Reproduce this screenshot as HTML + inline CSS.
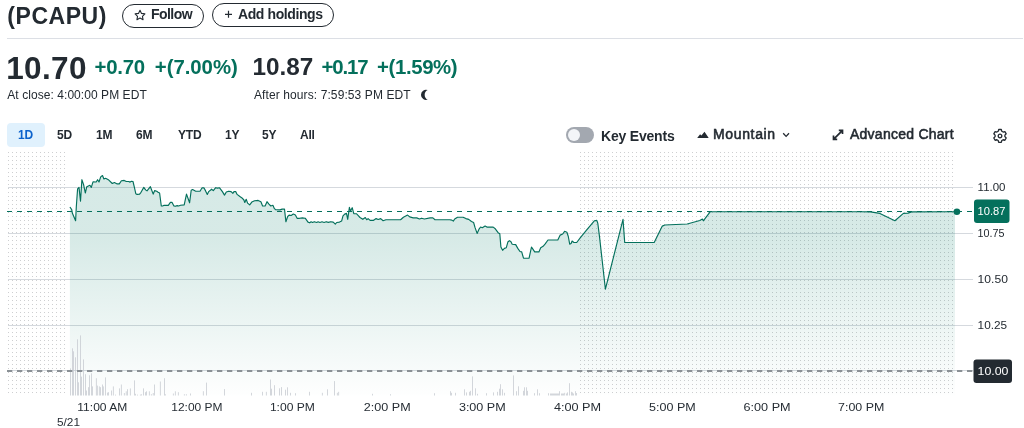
<!DOCTYPE html>
<html lang="en"><head><meta charset="utf-8"><title>PCAPU chart</title>
<style>
html,body{margin:0;padding:0;background:#fff;}
body{width:1024px;height:428px;position:relative;overflow:hidden;font-family:"Liberation Sans",Arial,sans-serif;color:#232a31;}
.a{position:absolute;white-space:nowrap;line-height:1;}
.b{font-weight:700;}
.g{color:#04705c;}
.pill{position:absolute;box-sizing:border-box;border:1px solid #232a31;border-radius:12px;height:24px;top:3.5px;}
.tab{position:absolute;top:129px;font-size:12px;font-weight:700;line-height:12px;white-space:nowrap;letter-spacing:-0.2px;}
svg{position:absolute;left:0;top:0;}
svg text{font-family:"Liberation Sans",Arial,sans-serif;}
</style></head><body>
<div class="a b" id="tick" style="left:7.3px;top:4.5px;font-size:23px;letter-spacing:0.55px;">(PCAPU)</div>
<div class="pill" style="left:122px;width:82px;"></div>
<div class="a b" id="follow" style="left:151px;top:7.4px;font-size:14px;letter-spacing:-0.55px;">Follow</div>
<div class="pill" style="left:212px;width:122px;top:2.8px;"></div>
<div class="a b" id="addh" style="left:238px;top:7.4px;font-size:14px;letter-spacing:-0.4px;">Add holdings</div>
<div class="a" style="left:7px;top:38px;width:1016px;height:1px;background:#dcdfe5;"></div>

<div class="a b" id="p1" style="left:6.2px;top:52.5px;font-size:31.5px;letter-spacing:0.35px;">10.70</div>
<div class="a b g" id="c1" style="left:94.5px;top:56.9px;font-size:20.4px;letter-spacing:-0.25px;">+0.70</div>
<div class="a b g" id="c2" style="left:154.8px;top:56.9px;font-size:20.4px;letter-spacing:-0.05px;">+(7.00%)</div>
<div class="a" id="t1" style="left:7.3px;top:89px;font-size:12px;letter-spacing:0.06px;">At close: 4:00:00 PM EDT</div>

<div class="a b" id="p2" style="left:252.5px;top:55px;font-size:24.3px;">10.87</div>
<div class="a b g" id="c3" style="left:321.5px;top:56.9px;font-size:20.4px;letter-spacing:-1.15px;">+0.17</div>
<div class="a b g" id="c4" style="left:377px;top:56.9px;font-size:20.4px;letter-spacing:-0.38px;">+(1.59%)</div>
<div class="a" id="t2" style="left:254px;top:89px;font-size:12px;letter-spacing:0.1px;">After hours: 7:59:53 PM EDT</div>

<div class="a" style="left:7px;top:123px;width:38px;height:24px;border-radius:4px;background:#e0f1fd;"></div>
<div class="tab" id="tb1" style="left:18px;color:#0b62cc;">1D</div>
<div class="tab" id="tb2" style="left:57px;">5D</div>
<div class="tab" id="tb3" style="left:96px;">1M</div>
<div class="tab" id="tb4" style="left:136px;">6M</div>
<div class="tab" id="tb5" style="left:178px;">YTD</div>
<div class="tab" id="tb6" style="left:225px;">1Y</div>
<div class="tab" id="tb7" style="left:262px;">5Y</div>
<div class="tab" id="tb8" style="left:300px;">All</div>

<div class="a" style="left:566px;top:127px;width:28px;height:16px;border-radius:8px;background:#a3a8b0;"></div>
<div class="a" style="left:568px;top:129px;width:12px;height:12px;border-radius:6px;background:#f3f5f8;"></div>
<div class="a b" id="ke" style="left:601px;top:129px;font-size:14px;letter-spacing:-0.2px;">Key Events</div>
<div class="a" id="mt" style="left:713px;top:127.400px;font-size:14px;letter-spacing:0.65px;-webkit-text-stroke:0.55px #232a31;">Mountain</div>
<div class="a" id="ac" style="left:850px;top:127.400px;font-size:14px;letter-spacing:0.25px;-webkit-text-stroke:0.55px #232a31;">Advanced Chart</div>

<svg width="1024" height="428" viewBox="0 0 1024 428">
<defs>
<pattern id="dots" x="8" y="152" width="4" height="4" patternUnits="userSpaceOnUse"><rect x="0" y="0" width="1" height="1" fill="#cecfd1"/></pattern>
<pattern id="dots2" x="580" y="152" width="4" height="4" patternUnits="userSpaceOnUse"><rect x="0" y="0" width="1" height="1" fill="#cecfd1"/></pattern>
<linearGradient id="mg" x1="0" y1="152" x2="0" y2="400" gradientUnits="userSpaceOnUse">
<stop offset="0" stop-color="#037b66" stop-opacity="0.16"/>
<stop offset="0.347" stop-color="#037b66" stop-opacity="0.16"/>
<stop offset="1" stop-color="#037b66" stop-opacity="0"/>
</linearGradient>
</defs>
<!-- star icon -->
<path d="M140,10.3 l1.5,3.1 3.4,0.5 -2.45,2.4 0.6,3.4 -3.05,-1.6 -3.05,1.6 0.6,-3.4 -2.45,-2.4 3.4,-0.5z" fill="none" stroke="#232a31" stroke-width="1.1" stroke-linejoin="round"/>
<!-- plus -->
<path d="M225,14.300h7M228.500,10.800v7" stroke="#232a31" stroke-width="1.2" fill="none"/>
<!-- moon -->
<path d="M427.700,90.100 A5.050,5.050 0 1 0 427.800,99.600 A5.200,5.200 0 0 1 427.700,90.100z" fill="#232a31"/>
<!-- mountain icon -->
<path d="M697.200,138 L700.100,134.200 L701.400,135.600 L704.500,131.700 L708.700,138z" fill="#232a31"/>
<!-- chevron -->
<path d="M783.200,133.300 L786.100,136.400 L789,133.300" fill="none" stroke="#232a31" stroke-width="1.3"/>
<!-- expand icon -->
<path d="M833.500,139.300 L842.500,130.300 M838.800,130.300 H842.500 V134 M833.500,135.600 V139.300 H837.200" fill="none" stroke="#232a31" stroke-width="1.7"/>
<!-- gear -->
<g transform="translate(1000,136)" fill="none" stroke="#232a31" stroke-width="1.3">
<circle r="1.800"/>
<path d="M-1.300,-6.500 h2.600 l0.500,1.800 1.300,0.750 1.800,-0.500 1.300,2.250 -1.300,1.350 v1.500 l1.300,1.350 -1.300,2.250 -1.800,-0.500 -1.300,0.750 -0.500,1.800 h-2.600 l-0.500,-1.800 -1.300,-0.750 -1.800,0.500 -1.300,-2.250 1.300,-1.350 v-1.500 l-1.300,-1.350 1.300,-2.250 1.800,0.500 1.300,-0.750z" stroke-linejoin="round"/>
</g>

<!-- chart -->
<rect x="8" y="152" width="58" height="242" fill="url(#dots)"/>
<rect x="580" y="152" width="376" height="242" fill="url(#dots2)"/>
<g stroke="#d5d9de" stroke-width="1">
<path d="M8,187.500H973M8,233.500H973M8,279.500H973M8,325.500H973M8,370.500H973"/>
</g>
<path d="M69.9,207 L71.7,209.5 L72.4,213.3 L75.6,220.7 L76.3,207 L77.6,188.8 L79,187.4 L80.5,201.1 L81.9,179.7 L83.6,184.6 L85.3,193 L86.8,186.7 L89.9,185.3 L91.3,187.4 L93,181.8 L96.2,182 L97.6,179.7 L99,182 L100.7,176.9 L102.5,175.5 L103.9,179 L105.6,178.3 L108.8,180.1 L112.3,183.5 L114.4,182.5 L117.2,183.9 L119.3,183.9 L121.4,180.7 L124.2,180.4 L126.3,181.5 L128.7,181.5 L130.1,182.1 L131.5,181.3 L133,181.5 L134.4,187.4 L135.8,193.7 L137.1,194.4 L139.6,194.1 L141,192.3 L143.8,187.4 L145.6,189.9 L147,190.9 L150.4,186.7 L153.2,194.1 L154.7,190.6 L156.7,191.3 L158.1,192.3 L159.6,193 L161.3,206 L162.7,206 L164.1,205.3 L168.3,205.3 L170.4,202.4 L172.1,202.4 L173.9,205.9 L175.3,206.3 L177.2,205.6 L178.6,206 L180.5,205.3 L184.2,204.9 L186.5,194.1 L189.6,202.8 L191.2,190.2 L192.6,189.5 L195.7,191.2 L200,191.2 L202.1,187.8 L203.9,187.8 L205.6,190.9 L207.3,194.4 L208.7,191.6 L211.6,189.2 L213.3,190.6 L215.7,187.7 L217.5,188.1 L219.6,187.8 L222.4,191.6 L224.5,195.1 L226.3,192 L228.7,191.2 L231.1,191.6 L232.9,193.3 L234,191.6 L235.7,191.6 L237.1,194.4 L239.9,196.5 L242,197.9 L243.9,200 L244.8,202.5 L246.2,199.3 L247.6,203.1 L249.7,204.9 L251.8,202.1 L254.6,200.7 L258.1,200.4 L260.9,201.7 L262.6,206 L265.1,206 L267,201.7 L268.7,203.9 L270.8,206 L272.9,205.3 L274.3,208.4 L275.7,209.8 L280,209.9 L282.1,209.1 L284.5,209.1 L285.9,221.7 L287.7,216.5 L289.1,215.1 L291.2,215.5 L293.3,214.1 L295.4,215.1 L297.1,218.3 L299.6,218.3 L302.4,217.9 L305.2,218.2 L308,222.1 L309.7,222.8 L311.1,221.8 L312.5,222.5 L314.3,221.7 L316.7,222.5 L318.1,221.8 L319.9,222.5 L322,221.8 L324.1,222.5 L326.2,221.7 L328.3,222.4 L330.7,221.7 L333.2,222.1 L335.3,224.2 L336.7,222.5 L339.5,222.1 L341.6,221.1 L343,215.8 L344.7,214.1 L346.5,213.4 L347.7,219.3 L349.4,207.4 L350.5,210.9 L352.2,207.7 L353.8,213.7 L356.4,213.7 L358.5,215.8 L360,217.5 L362.8,219.3 L365.3,217.5 L366.7,219.7 L368.1,218.6 L370.1,220.4 L373.3,220.4 L376.1,218.6 L378.2,219.5 L380.7,218.6 L383.1,220.7 L385.9,219.7 L400.6,219.7 L403.4,217.2 L407.6,215.1 L409.7,216.9 L413.2,217.9 L416.7,217.9 L419.5,219 L421.6,218.2 L424.4,219 L430.1,217.9 L432.9,217.9 L435,219.7 L440,219.7 L449.8,219.7 L451.9,220.1 L453.3,221.1 L454.7,219 L457.5,217.2 L463.1,217.2 L465.9,218.6 L468.7,219.4 L471.5,221.5 L473.6,222.5 L475,227.4 L477.1,233.4 L479.2,228.8 L480.6,227 L482.3,227.7 L485.1,226 L486.9,227.1 L493.2,227.1 L495.3,228.8 L498.1,232.7 L499.8,233.7 L500.9,247 L502.6,250.3 L504.4,248.4 L506.3,247.7 L508,241.7 L509.4,240.7 L510.8,241.4 L512.2,244.2 L515.7,244.6 L517.8,248.4 L520,251.5 L521.7,251.9 L523.5,258.2 L529.1,258.2 L530.1,253.3 L531.5,247 L532.9,249.1 L534.7,251.9 L538.9,251.9 L540.7,247.7 L543.1,246.3 L545.2,243.9 L548,240 L557.8,240 L560.2,235.1 L562.7,234 L564.6,231.3 L566.9,232.3 L568.3,236.5 L569.7,244.2 L571.1,243.5 L572.1,241 L573.9,242.5 L576.7,242.5 L580.2,237.9 L585.9,230.9 L594.3,220.8 L596.8,220.4 L597.8,223.2 L599.5,236.6 L605.4,289.2 L623,219.3 L624.7,242.5 L654.2,242.5 L662.3,226.1 L664.8,225 L687.2,224 L699.8,220.5 L702.4,219.1 L703.3,220.8 L710.3,211.7 L735,211.7 L860,211.7 L870.5,211.9 L879.9,213.4 L894.9,220.7 L903.4,213.4 L908,213.1 L911.6,211.9 L953.8,211.7 L955,211.7 L955,395.5 L69.9,395.5 Z" fill="url(#mg)"/>
<g fill="#c8ccd2"><rect x="70.2" y="368.4" width="0.8" height="27.1"/><rect x="72.2" y="348.3" width="0.8" height="47.2"/><rect x="73.2" y="351.3" width="0.8" height="44.2"/><rect x="75.1" y="357.3" width="0.8" height="38.2"/><rect x="77.1" y="339.3" width="0.8" height="56.2"/><rect x="78.1" y="382.3" width="0.8" height="13.2"/><rect x="80.0" y="335.4" width="0.8" height="60.1"/><rect x="81.0" y="376.6" width="0.8" height="18.9"/><rect x="83.2" y="359.4" width="0.8" height="36.1"/><rect x="85.1" y="374.2" width="0.8" height="21.3"/><rect x="86.1" y="390.5" width="0.8" height="5.0"/><rect x="88.1" y="387.2" width="0.8" height="8.3"/><rect x="89.0" y="375.3" width="0.8" height="20.2"/><rect x="91.0" y="373.3" width="0.8" height="22.2"/><rect x="92.0" y="386.4" width="0.8" height="9.1"/><rect x="95.9" y="378.2" width="0.8" height="17.3"/><rect x="96.9" y="385.6" width="0.8" height="9.9"/><rect x="98.9" y="386.4" width="0.8" height="9.1"/><rect x="100.0" y="387.2" width="0.8" height="8.3"/><rect x="102.0" y="384.5" width="0.8" height="11.0"/><rect x="102.9" y="386.4" width="0.8" height="9.1"/><rect x="105.1" y="377.4" width="0.8" height="18.1"/><rect x="107.0" y="392.6" width="0.8" height="2.9"/><rect x="108.0" y="392.2" width="0.8" height="3.3"/><rect x="111.0" y="390.5" width="0.8" height="5.0"/><rect x="112.9" y="386.4" width="0.8" height="9.1"/><rect x="115.2" y="394.6" width="0.8" height="0.9"/><rect x="119.0" y="388.4" width="0.8" height="7.1"/><rect x="120.9" y="384.5" width="0.8" height="11.0"/><rect x="123.9" y="393" width="0.8" height="2.5"/><rect x="125.8" y="391.3" width="0.8" height="4.2"/><rect x="127.0" y="389.2" width="0.8" height="6.3"/><rect x="129.9" y="388.4" width="0.8" height="7.1"/><rect x="134.0" y="380.4" width="0.8" height="15.1"/><rect x="135.0" y="393.8" width="0.8" height="1.7"/><rect x="137.0" y="394.6" width="0.8" height="0.9"/><rect x="139.9" y="394.6" width="0.8" height="0.9"/><rect x="140.9" y="394.2" width="0.8" height="1.3"/><rect x="143.0" y="388.4" width="0.8" height="7.1"/><rect x="145.0" y="392.2" width="0.8" height="3.3"/><rect x="146.0" y="391.3" width="0.8" height="4.2"/><rect x="148.9" y="391.3" width="0.8" height="4.2"/><rect x="150.9" y="394.2" width="0.8" height="1.3"/><rect x="152.8" y="393" width="0.8" height="2.5"/><rect x="154.0" y="384.5" width="0.8" height="11.0"/><rect x="159.9" y="381.5" width="0.8" height="14.0"/><rect x="164.0" y="378.2" width="0.8" height="17.3"/><rect x="164.9" y="394.2" width="0.8" height="1.3"/><rect x="172.9" y="393.5" width="0.8" height="2.0"/><rect x="174.9" y="391.3" width="0.8" height="4.2"/><rect x="177.9" y="392.2" width="0.8" height="3.3"/><rect x="183.9" y="394.2" width="0.8" height="1.3"/><rect x="185.9" y="394.2" width="0.8" height="1.3"/><rect x="190.0" y="393.5" width="0.8" height="2.0"/><rect x="202.9" y="391.2" width="0.8" height="4.3"/><rect x="206.0" y="382.6" width="0.8" height="12.9"/><rect x="224.1" y="389.1" width="0.8" height="6.4"/><rect x="251.1" y="392.8" width="0.8" height="2.7"/><rect x="262.0" y="391.8" width="0.8" height="3.7"/><rect x="265.9" y="391.8" width="0.8" height="3.7"/><rect x="270.0" y="379.5" width="0.8" height="16.0"/><rect x="271.2" y="388.7" width="0.8" height="6.8"/><rect x="274.1" y="385.2" width="0.8" height="10.3"/><rect x="279.0" y="388.3" width="0.8" height="7.2"/><rect x="281.1" y="387.1" width="0.8" height="8.4"/><rect x="285.0" y="389.7" width="0.8" height="5.8"/><rect x="287.0" y="387.3" width="0.8" height="8.2"/><rect x="290.1" y="392.8" width="0.8" height="2.7"/><rect x="295.2" y="393.2" width="0.8" height="2.3"/><rect x="309.2" y="391.8" width="0.8" height="3.7"/><rect x="321.9" y="392.8" width="0.8" height="2.7"/><rect x="327.0" y="389.3" width="0.8" height="6.2"/><rect x="334.2" y="381.1" width="0.8" height="14.4"/><rect x="336.9" y="392.8" width="0.8" height="2.7"/><rect x="338.3" y="391.8" width="0.8" height="3.7"/><rect x="372.1" y="393.8" width="0.8" height="1.7"/><rect x="390.2" y="394.2" width="0.8" height="1.3"/><rect x="434.1" y="393.2" width="0.8" height="2.3"/><rect x="450.1" y="391.2" width="0.8" height="4.3"/><rect x="451.1" y="392.8" width="0.8" height="2.7"/><rect x="455.2" y="392.8" width="0.8" height="2.7"/><rect x="464.0" y="389.3" width="0.8" height="6.2"/><rect x="466.1" y="392.4" width="0.8" height="3.1"/><rect x="469.2" y="391.8" width="0.8" height="3.7"/><rect x="470.2" y="390.8" width="0.8" height="4.7"/><rect x="472.0" y="376.4" width="0.8" height="19.1"/><rect x="475.1" y="388.3" width="0.8" height="7.2"/><rect x="477.1" y="393.8" width="0.8" height="1.7"/><rect x="486.0" y="393.2" width="0.8" height="2.3"/><rect x="493.2" y="392.4" width="0.8" height="3.1"/><rect x="497.1" y="391.8" width="0.8" height="3.7"/><rect x="499.1" y="388.7" width="0.8" height="6.8"/><rect x="500.1" y="384.2" width="0.8" height="11.3"/><rect x="502.0" y="389.3" width="0.8" height="6.2"/><rect x="504.0" y="392.8" width="0.8" height="2.7"/><rect x="513.1" y="375.4" width="0.8" height="20.1"/><rect x="516.1" y="391.2" width="0.8" height="4.3"/><rect x="518.2" y="386.3" width="0.8" height="9.2"/><rect x="523.1" y="390.8" width="0.8" height="4.7"/><rect x="524.1" y="387.3" width="0.8" height="8.2"/><rect x="526.0" y="387.3" width="0.8" height="8.2"/><rect x="527.0" y="390.8" width="0.8" height="4.7"/><rect x="534.2" y="393.2" width="0.8" height="2.3"/><rect x="537.1" y="389.3" width="0.8" height="6.2"/><rect x="539.1" y="393.2" width="0.8" height="2.3"/><rect x="548.1" y="393.2" width="0.8" height="2.3"/><rect x="550.1" y="393.5" width="0.8" height="2.0"/><rect x="551.1" y="393.5" width="0.8" height="2.0"/><rect x="552.1" y="393.5" width="0.8" height="2.0"/><rect x="553.1" y="393.5" width="0.8" height="2.0"/><rect x="554.1" y="393.5" width="0.8" height="2.0"/><rect x="555.1" y="393.5" width="0.8" height="2.0"/><rect x="556.1" y="393.5" width="0.8" height="2.0"/><rect x="557.1" y="393.5" width="0.8" height="2.0"/><rect x="558.1" y="393.5" width="0.8" height="2.0"/><rect x="559.2" y="391.2" width="0.8" height="4.3"/><rect x="561.1" y="393.5" width="0.8" height="2.0"/><rect x="562.1" y="393.5" width="0.8" height="2.0"/><rect x="563.1" y="393.5" width="0.8" height="2.0"/><rect x="564.3" y="392.8" width="0.8" height="2.7"/><rect x="566.1" y="393.5" width="0.8" height="2.0"/><rect x="567.2" y="392.4" width="0.8" height="3.1"/><rect x="569.0" y="383.2" width="0.8" height="12.3"/><rect x="571.1" y="391.8" width="0.8" height="3.7"/><rect x="572.1" y="392.4" width="0.8" height="3.1"/><rect x="573.1" y="393.5" width="0.8" height="2.0"/><rect x="575.2" y="391.2" width="0.8" height="4.3"/><rect x="576.2" y="393" width="0.8" height="2.5"/></g>
<path d="M7,371H973" stroke="#8a9095" stroke-width="2" stroke-dasharray="5.300 4.700"/>
<path d="M7,211.500H973" stroke="#04705c" stroke-width="1" stroke-dasharray="5 5"/>
<path d="M69.9,207 L71.7,209.5 L72.4,213.3 L75.6,220.7 L76.3,207 L77.6,188.8 L79,187.4 L80.5,201.1 L81.9,179.7 L83.6,184.6 L85.3,193 L86.8,186.7 L89.9,185.3 L91.3,187.4 L93,181.8 L96.2,182 L97.6,179.7 L99,182 L100.7,176.9 L102.5,175.5 L103.9,179 L105.6,178.3 L108.8,180.1 L112.3,183.5 L114.4,182.5 L117.2,183.9 L119.3,183.9 L121.4,180.7 L124.2,180.4 L126.3,181.5 L128.7,181.5 L130.1,182.1 L131.5,181.3 L133,181.5 L134.4,187.4 L135.8,193.7 L137.1,194.4 L139.6,194.1 L141,192.3 L143.8,187.4 L145.6,189.9 L147,190.9 L150.4,186.7 L153.2,194.1 L154.7,190.6 L156.7,191.3 L158.1,192.3 L159.6,193 L161.3,206 L162.7,206 L164.1,205.3 L168.3,205.3 L170.4,202.4 L172.1,202.4 L173.9,205.9 L175.3,206.3 L177.2,205.6 L178.6,206 L180.5,205.3 L184.2,204.9 L186.5,194.1 L189.6,202.8 L191.2,190.2 L192.6,189.5 L195.7,191.2 L200,191.2 L202.1,187.8 L203.9,187.8 L205.6,190.9 L207.3,194.4 L208.7,191.6 L211.6,189.2 L213.3,190.6 L215.7,187.7 L217.5,188.1 L219.6,187.8 L222.4,191.6 L224.5,195.1 L226.3,192 L228.7,191.2 L231.1,191.6 L232.9,193.3 L234,191.6 L235.7,191.6 L237.1,194.4 L239.9,196.5 L242,197.9 L243.9,200 L244.8,202.5 L246.2,199.3 L247.6,203.1 L249.7,204.9 L251.8,202.1 L254.6,200.7 L258.1,200.4 L260.9,201.7 L262.6,206 L265.1,206 L267,201.7 L268.7,203.9 L270.8,206 L272.9,205.3 L274.3,208.4 L275.7,209.8 L280,209.9 L282.1,209.1 L284.5,209.1 L285.9,221.7 L287.7,216.5 L289.1,215.1 L291.2,215.5 L293.3,214.1 L295.4,215.1 L297.1,218.3 L299.6,218.3 L302.4,217.9 L305.2,218.2 L308,222.1 L309.7,222.8 L311.1,221.8 L312.5,222.5 L314.3,221.7 L316.7,222.5 L318.1,221.8 L319.9,222.5 L322,221.8 L324.1,222.5 L326.2,221.7 L328.3,222.4 L330.7,221.7 L333.2,222.1 L335.3,224.2 L336.7,222.5 L339.5,222.1 L341.6,221.1 L343,215.8 L344.7,214.1 L346.5,213.4 L347.7,219.3 L349.4,207.4 L350.5,210.9 L352.2,207.7 L353.8,213.7 L356.4,213.7 L358.5,215.8 L360,217.5 L362.8,219.3 L365.3,217.5 L366.7,219.7 L368.1,218.6 L370.1,220.4 L373.3,220.4 L376.1,218.6 L378.2,219.5 L380.7,218.6 L383.1,220.7 L385.9,219.7 L400.6,219.7 L403.4,217.2 L407.6,215.1 L409.7,216.9 L413.2,217.9 L416.7,217.9 L419.5,219 L421.6,218.2 L424.4,219 L430.1,217.9 L432.9,217.9 L435,219.7 L440,219.7 L449.8,219.7 L451.9,220.1 L453.3,221.1 L454.7,219 L457.5,217.2 L463.1,217.2 L465.9,218.6 L468.7,219.4 L471.5,221.5 L473.6,222.5 L475,227.4 L477.1,233.4 L479.2,228.8 L480.6,227 L482.3,227.7 L485.1,226 L486.9,227.1 L493.2,227.1 L495.3,228.8 L498.1,232.7 L499.8,233.7 L500.9,247 L502.6,250.3 L504.4,248.4 L506.3,247.7 L508,241.7 L509.4,240.7 L510.8,241.4 L512.2,244.2 L515.7,244.6 L517.8,248.4 L520,251.5 L521.7,251.9 L523.5,258.2 L529.1,258.2 L530.1,253.3 L531.5,247 L532.9,249.1 L534.7,251.9 L538.9,251.9 L540.7,247.7 L543.1,246.3 L545.2,243.9 L548,240 L557.8,240 L560.2,235.1 L562.7,234 L564.6,231.3 L566.9,232.3 L568.3,236.5 L569.7,244.2 L571.1,243.5 L572.1,241 L573.9,242.5 L576.7,242.5 L580.2,237.9 L585.9,230.9 L594.3,220.8 L596.8,220.4 L597.8,223.2 L599.5,236.6 L605.4,289.2 L623,219.3 L624.7,242.5 L654.2,242.5 L662.3,226.1 L664.8,225 L687.2,224 L699.8,220.5 L702.4,219.1 L703.3,220.8 L710.3,211.7 L735,211.7 L860,211.7 L870.5,211.9 L879.9,213.4 L894.9,220.7 L903.4,213.4 L908,213.1 L911.6,211.9 L953.8,211.7 L955,211.7" fill="none" stroke="#04705c" stroke-width="1.150" stroke-linejoin="round"/>
<circle cx="956.900" cy="211.700" r="3.300" fill="#04705c"/>
<rect x="974" y="199.500" width="35.500" height="23.500" rx="3" fill="#04705c"/>
<rect x="973.500" y="359.500" width="38.500" height="23.500" rx="3" fill="#232a31"/>
<g font-size="11.500" fill="#232a31" >
<text x="977.600" y="191.2" textLength="27.900" lengthAdjust="spacingAndGlyphs">11.00</text>
<text x="977.600" y="237.2" textLength="27" lengthAdjust="spacingAndGlyphs">10.75</text>
<text x="977.600" y="283.2" textLength="30.300" lengthAdjust="spacingAndGlyphs">10.50</text>
<text x="977.600" y="329.2" textLength="29.500" lengthAdjust="spacingAndGlyphs">10.25</text>
<text x="977.600" y="215.300" fill="#fff" textLength="27.900" lengthAdjust="spacingAndGlyphs">10.87</text>
<text x="977.600" y="375.300" fill="#fff" textLength="30.900" lengthAdjust="spacingAndGlyphs">10.00</text>
</g>
<g font-size="11.500" fill="#262d34">
<text x="77.3" y="410.800" textLength="50.0" lengthAdjust="spacingAndGlyphs">11:00 AM</text>
<text x="171.3" y="410.800" textLength="51.3" lengthAdjust="spacingAndGlyphs">12:00 PM</text>
<text x="269.9" y="410.800" textLength="45.0" lengthAdjust="spacingAndGlyphs">1:00 PM</text>
<text x="363.8" y="410.800" textLength="46.8" lengthAdjust="spacingAndGlyphs">2:00 PM</text>
<text x="458.9" y="410.800" textLength="46.8" lengthAdjust="spacingAndGlyphs">3:00 PM</text>
<text x="553.9" y="410.800" textLength="47.2" lengthAdjust="spacingAndGlyphs">4:00 PM</text>
<text x="649.1" y="410.800" textLength="46.6" lengthAdjust="spacingAndGlyphs">5:00 PM</text>
<text x="743.5" y="410.800" textLength="47.1" lengthAdjust="spacingAndGlyphs">6:00 PM</text>
<text x="838.1" y="410.800" textLength="46.2" lengthAdjust="spacingAndGlyphs">7:00 PM</text>
<text x="57" y="425.600" textLength="23" lengthAdjust="spacingAndGlyphs">5/21</text>
</g>
</svg>
</body></html>
